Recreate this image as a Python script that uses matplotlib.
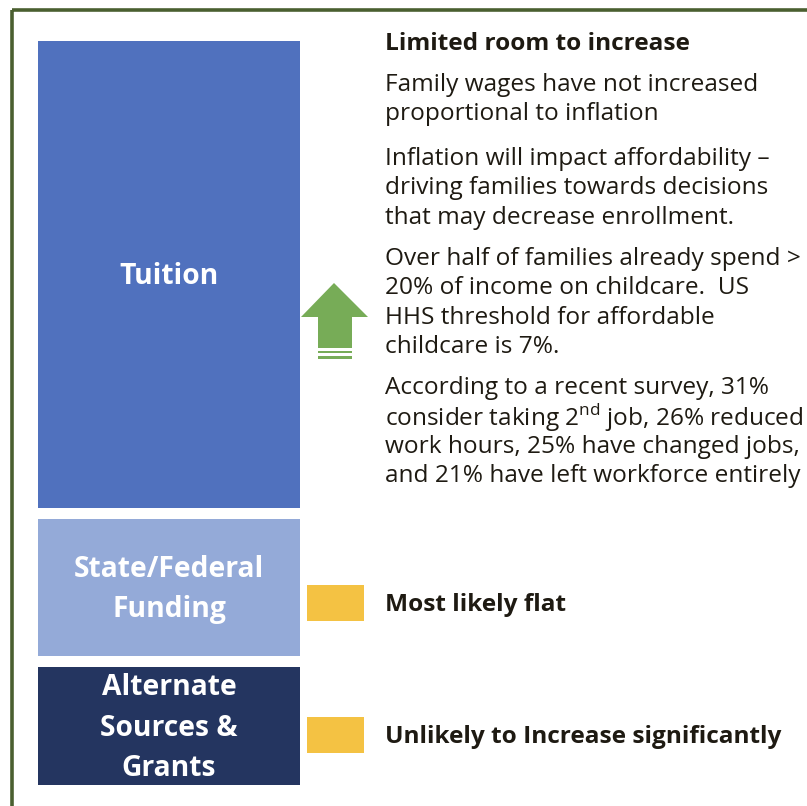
#!/usr/bin/env python3
# Funding sources diagram: stacked blocks with outlook notes

import matplotlib.pyplot as plt
from matplotlib.patches import Rectangle, Polygon

plt.rcParams['font.family'] = ['Open Sans', 'DejaVu Sans']
plt.rcParams['mathtext.fontset'] = 'custom'
plt.rcParams['mathtext.rm'] = 'Open Sans'

# Funding blocks (pixel spans, top -> bottom)
block_labels = ['Tuition', 'State/Federal\nFunding', 'Alternate\nSources &\nGrants']
block_top = [41, 519, 667]
block_bottom = [508, 656, 785]
block_colors = ['#5071BE', '#94AAD8', '#243560']

# Outlook notes
tuition_heading = 'Limited room to increase'
tuition_notes = [
    ['Family wages have not increased', 'proportional to inflation'],
    ['Inflation will impact affordability \u2013', 'driving families towards decisions',
     'that may decrease enrollment.'],
    ['Over half of families already spend >', '20% of income on childcare.  US',
     'HHS threshold for affordable', 'childcare is 7%.'],
    ['According to a recent survey, 31%', r'consider taking 2$^{\mathrm{nd}}$ job, 26% reduced',
     'work hours, 25% have changed jobs,', 'and 21% have left workforce entirely'],
]
note_starts = [85, 159, 259, 388]
flat_labels = ['Most likely flat', 'Unlikely to Increase significantly']
flat_y = [603, 735]

W, H = 807, 806
fig = plt.figure(figsize=(W / 100, H / 100), dpi=100)
ax = fig.add_axes([0, 0, 1, 1])
ax.set_xlim(0, W)
ax.set_ylim(H, 0)
ax.axis('off')

txt = '#1E1A12'

# outer frame (runs off the right and bottom)
ax.add_patch(Rectangle((11.5, 9.5), 900, 900, fill=False, lw=2.6, ec='#4A5F30'))

# blocks
for lab, top, bot, col in zip(block_labels, block_top, block_bottom, block_colors):
    ax.add_patch(Rectangle((38, top), 262, bot - top, fc=col, ec='none'))
    ax.text(169, (top + bot) / 2 + 2, lab, ha='center', va='center', color='white',
            fontsize=20.3, fontweight='bold', linespacing=1.52)

# green up arrow with stripes
green = '#77AC57'
ax.add_patch(Polygon([(334, 283), (368, 317), (352, 317), (352, 348), (318, 348),
                      (318, 317), (301, 317)], closed=True, fc=green, ec='none'))
ax.add_patch(Rectangle((318, 350.5), 34, 2.5, fc=green, ec='none'))
ax.add_patch(Rectangle((318, 356), 34, 2.5, fc=green, ec='none'))

# yellow markers
for y in flat_y:
    ax.add_patch(Rectangle((307, y - 18), 57, 36, fc='#F4C243', ec='none'))

# right column text
ax.text(385, 44, tuition_heading, ha='left', va='center', color=txt,
        fontsize=17.6, fontweight='bold')
for start, para in zip(note_starts, tuition_notes):
    for i, line in enumerate(para):
        ax.text(385, start + i * 29.3, line, ha='left', va='center', color=txt, fontsize=17.6)

for lab, y in zip(flat_labels, flat_y):
    ax.text(385, y + 2, lab, ha='left', va='center', color=txt, fontsize=17.6, fontweight='bold')

fig.savefig('out.png', dpi=100)
